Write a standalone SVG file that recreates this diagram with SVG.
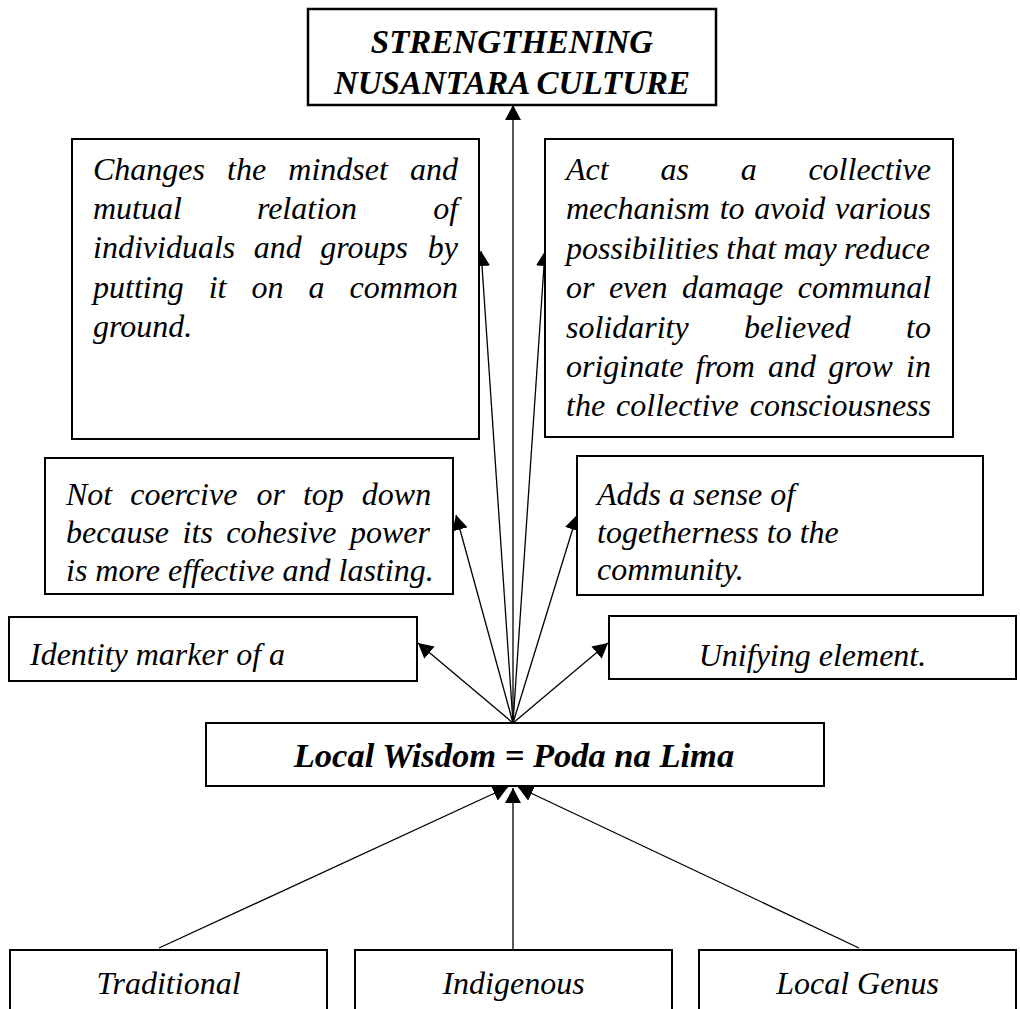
<svg xmlns="http://www.w3.org/2000/svg" width="1020" height="1009" viewBox="0 0 1020 1009">
<style>
.box{fill:#fff;stroke:#000;stroke-width:2}
.t{font-family:"Liberation Serif","Times New Roman",serif;font-style:italic;font-size:32px;fill:#000}
.b{font-weight:bold}
.c{text-anchor:middle}
.ln{stroke:#000;stroke-width:1.3;fill:none;marker-end:url(#ah)}
</style>
<defs>
<marker id="ah" markerUnits="userSpaceOnUse" markerWidth="15" markerHeight="16" viewBox="0 0 15 16" refX="15" refY="8" orient="auto">
<path d="M0,0 L15,8 L0,16 z" fill="#000"/>
</marker>
</defs>
<rect width="1020" height="1009" fill="#fff"/>
<g id="connectors">
<line class="ln" x1="513" y1="723" x2="513" y2="105"/>
<line class="ln" x1="513" y1="723" x2="481" y2="251"/>
<line class="ln" x1="513" y1="723" x2="545" y2="251"/>
<line class="ln" x1="513" y1="723" x2="456" y2="515"/>
<line class="ln" x1="513" y1="723" x2="577" y2="515"/>
<line class="ln" x1="513" y1="723" x2="418" y2="643"/>
<line class="ln" x1="513" y1="723" x2="608" y2="643"/>
<line class="ln" x1="159" y1="948" x2="508" y2="787"/>
<line class="ln" x1="513" y1="950" x2="513" y2="788"/>
<line class="ln" x1="859" y1="948" x2="518" y2="787"/>
</g>
<g id="top">
<rect class="box" x="308" y="9" width="408" height="96" style="stroke-width:2.5"/>
<text class="t b c" style="font-size:33px" x="512" y="53">STRENGTHENING</text>
<text class="t b c" style="font-size:33px" x="512" y="94">NUSANTARA CULTURE</text>
</g>
<g id="mindset">
<rect class="box" x="72" y="139" width="407" height="300"/>
<text class="t" y="180"><tspan x="93">Changes</tspan><tspan x="227.1">the</tspan><tspan x="288.3">mindset</tspan><tspan x="410">and</tspan></text>
<text class="t" y="219"><tspan x="93">mutual</tspan><tspan x="256.9">relation</tspan><tspan x="433.2">of</tspan></text>
<text class="t" y="258"><tspan x="93">individuals</tspan><tspan x="253.8">and</tspan><tspan x="320.3">groups</tspan><tspan x="427.8">by</tspan></text>
<text class="t" y="298"><tspan x="93">putting</tspan><tspan x="208.7">it</tspan><tspan x="251.5">on</tspan><tspan x="308.5">a</tspan><tspan x="349.5">common</tspan></text>
<text class="t" x="93" y="337">ground.</text>
</g>
<g id="collective">
<rect class="box" x="545" y="139" width="408" height="298"/>
<text class="t" y="180"><tspan x="566">Act</tspan><tspan x="660.5">as</tspan><tspan x="740.7">a</tspan><tspan x="808.4">collective</tspan></text>
<text class="t" y="219"><tspan x="566">mechanism</tspan><tspan x="719.7">to</tspan><tspan x="754.2">avoid</tspan><tspan x="835">various</tspan></text>
<text class="t" y="259"><tspan x="566">possibilities</tspan><tspan x="726.3">that</tspan><tspan x="783.4">may</tspan><tspan x="844">reduce</tspan></text>
<text class="t" y="298"><tspan x="566">or</tspan><tspan x="608.9">even</tspan><tspan x="682">damage</tspan><tspan x="797.8">communal</tspan></text>
<text class="t" y="338"><tspan x="566">solidarity</tspan><tspan x="744.1">believed</tspan><tspan x="906.1">to</tspan></text>
<text class="t" y="377"><tspan x="566">originate</tspan><tspan x="695.5">from</tspan><tspan x="768">and</tspan><tspan x="828.2">grow</tspan><tspan x="906.1">in</tspan></text>
<text class="t" y="416"><tspan x="566">the</tspan><tspan x="616.1">collective</tspan><tspan x="749.7">consciousness</tspan></text>
</g>
<g id="coercive">
<rect class="box" x="45" y="458" width="408" height="136"/>
<text class="t" y="505"><tspan x="66">Not</tspan><tspan x="130.2">coercive</tspan><tspan x="256.6">or</tspan><tspan x="302.9">top</tspan><tspan x="361.8">down</tspan></text>
<text class="t" y="543"><tspan x="66">because</tspan><tspan x="182.6">its</tspan><tspan x="226.3">cohesive</tspan><tspan x="350">power</tspan></text>
<text class="t" x="66" y="581">is more effective and lasting.</text>
</g>
<g id="togetherness">
<rect class="box" x="577" y="456" width="406" height="139"/>
<text class="t" x="597" y="505">Adds a sense of</text>
<text class="t" x="597" y="543">togetherness to the</text>
<text class="t" x="597" y="580">community.</text>
</g>
<g id="identity">
<rect class="box" x="9" y="617" width="408" height="64"/>
<text class="t" x="30" y="665">Identity marker of a</text>
</g>
<g id="unifying">
<rect class="box" x="609" y="616" width="407" height="63"/>
<text class="t c" x="812.5" y="666">Unifying element.</text>
</g>
<g id="localwisdom">
<rect class="box" x="206" y="723" width="618" height="63"/>
<text class="t b c" style="font-size:34.5px" x="514" y="767">Local Wisdom = Poda na Lima</text>
</g>
<g id="traditional">
<rect class="box" x="10" y="950" width="317" height="80"/>
<text class="t c" x="168.5" y="994">Traditional</text>
</g>
<g id="indigenous">
<rect class="box" x="355" y="950" width="317" height="80"/>
<text class="t c" x="513.5" y="994">Indigenous</text>
</g>
<g id="localgenus">
<rect class="box" x="699" y="950" width="317" height="80"/>
<text class="t c" x="857.5" y="994">Local Genus</text>
</g>
</svg>
